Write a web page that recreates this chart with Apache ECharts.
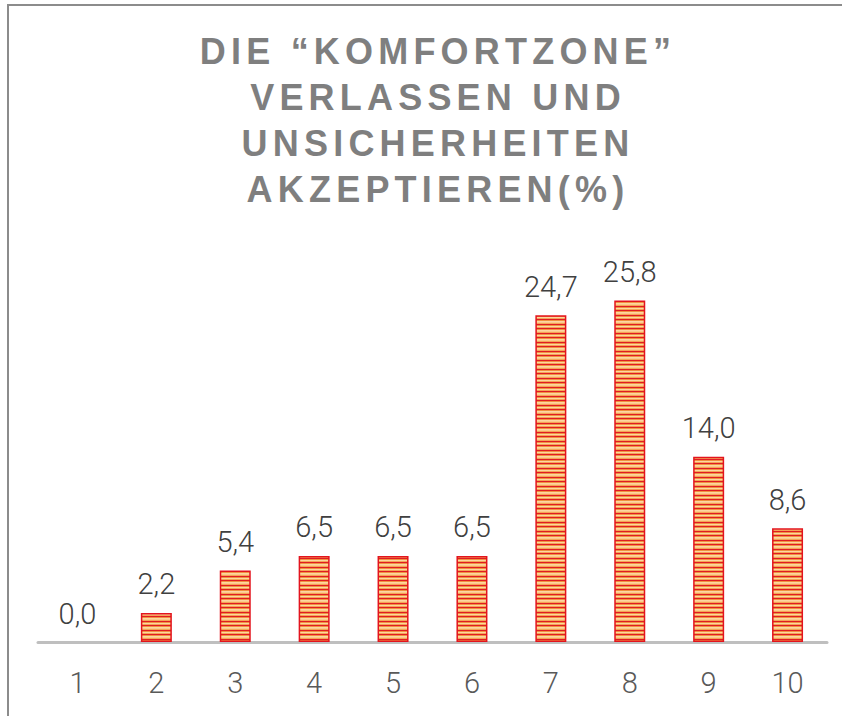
<!DOCTYPE html>
<html>
<head>
<meta charset="utf-8">
<script src="https://cdn.jsdelivr.net/npm/echarts@6/dist/echarts.min.js"></script>
<style>
  html, body { margin: 0; padding: 0; background: #fff; }
  #chart { width: 842px; height: 716px; }
  #chart text[fill="#7f7f7f"] { letter-spacing: 5.2px; }
</style>
</head>
<body>
<div id="chart"></div>
<script>
const categories = ['1', '2', '3', '4', '5', '6', '7', '8', '9', '10'];
const values = [0.0, 2.2, 5.4, 6.5, 6.5, 6.5, 24.7, 25.8, 14.0, 8.6];
const titleLines = ['DIE \u201CKOMFORTZONE\u201D', 'VERLASSEN UND', 'UNSICHERHEITEN', 'AKZEPTIEREN(%)'];

// striped fill pattern (red lines over an orange/peach gradient)
const pc = document.createElement('canvas');
pc.width = 4; pc.height = 9;
const pctx = pc.getContext('2d');
const rows = ['#e01c24', '#f0913f', '#fcd6a2', '#f4a556', '#e01c24', '#f0913f', '#fcd6a2', '#fbcb8c', '#f4a556'];
rows.forEach((c, i) => { pctx.fillStyle = c; pctx.fillRect(0, i, 4, 1); });

const barData = values.map(v => v === 0
  ? { value: v, itemStyle: { borderWidth: 0, opacity: 0 } }
  : { value: v });

const chart = echarts.init(document.getElementById('chart'), null, { renderer: 'svg' });
chart.setOption({
  animation: false,
  backgroundColor: '#ffffff',
  title: {
    text: titleLines.join('\n'),
    left: 433,
    top: 23,
    textAlign: 'center',
    textStyle: {
      color: '#7f7f7f',
      fontFamily: '"Liberation Sans", Arial, sans-serif',
      fontWeight: 'bold',
      fontSize: 36,
      lineHeight: 46
    }
  },
  graphic: [{
    type: 'polyline',
    shape: { points: [[8, 800], [8, 5], [900, 5]] },
    style: { fill: 'none', stroke: '#8c8c8c', lineWidth: 2 },
    silent: true
  }],
  grid: { left: 38, right: 15, bottom: 74, top: 245 },
  xAxis: {
    type: 'category',
    data: categories,
    axisLine: { show: true, lineStyle: { color: '#bfbfbf', width: 3 } },
    axisTick: { show: false },
    axisLabel: {
      color: '#595959',
      fontFamily: 'Roboto, "Open Sans", sans-serif',
      fontWeight: 300,
      fontSize: 29,
      margin: 26
    }
  },
  yAxis: {
    type: 'value',
    min: 0,
    max: 30,
    show: false,
    splitLine: { show: false }
  },
  series: [{
    type: 'bar',
    data: barData,
    barWidth: 31,
    itemStyle: {
      color: { image: pc, repeat: 'repeat', imageWidth: 4, imageHeight: 9 },
      borderColor: '#e3141e',
      borderWidth: 1.5
    },
    label: {
      show: true,
      position: 'top',
      distance: 14,
      color: '#404040',
      opacity: 1,
      fontFamily: 'Roboto, "Open Sans", sans-serif',
      fontWeight: 300,
      fontSize: 29,
      formatter: p => p.value.toFixed(1).replace('.', ',')
    }
  }]
});
</script>
</body>
</html>
